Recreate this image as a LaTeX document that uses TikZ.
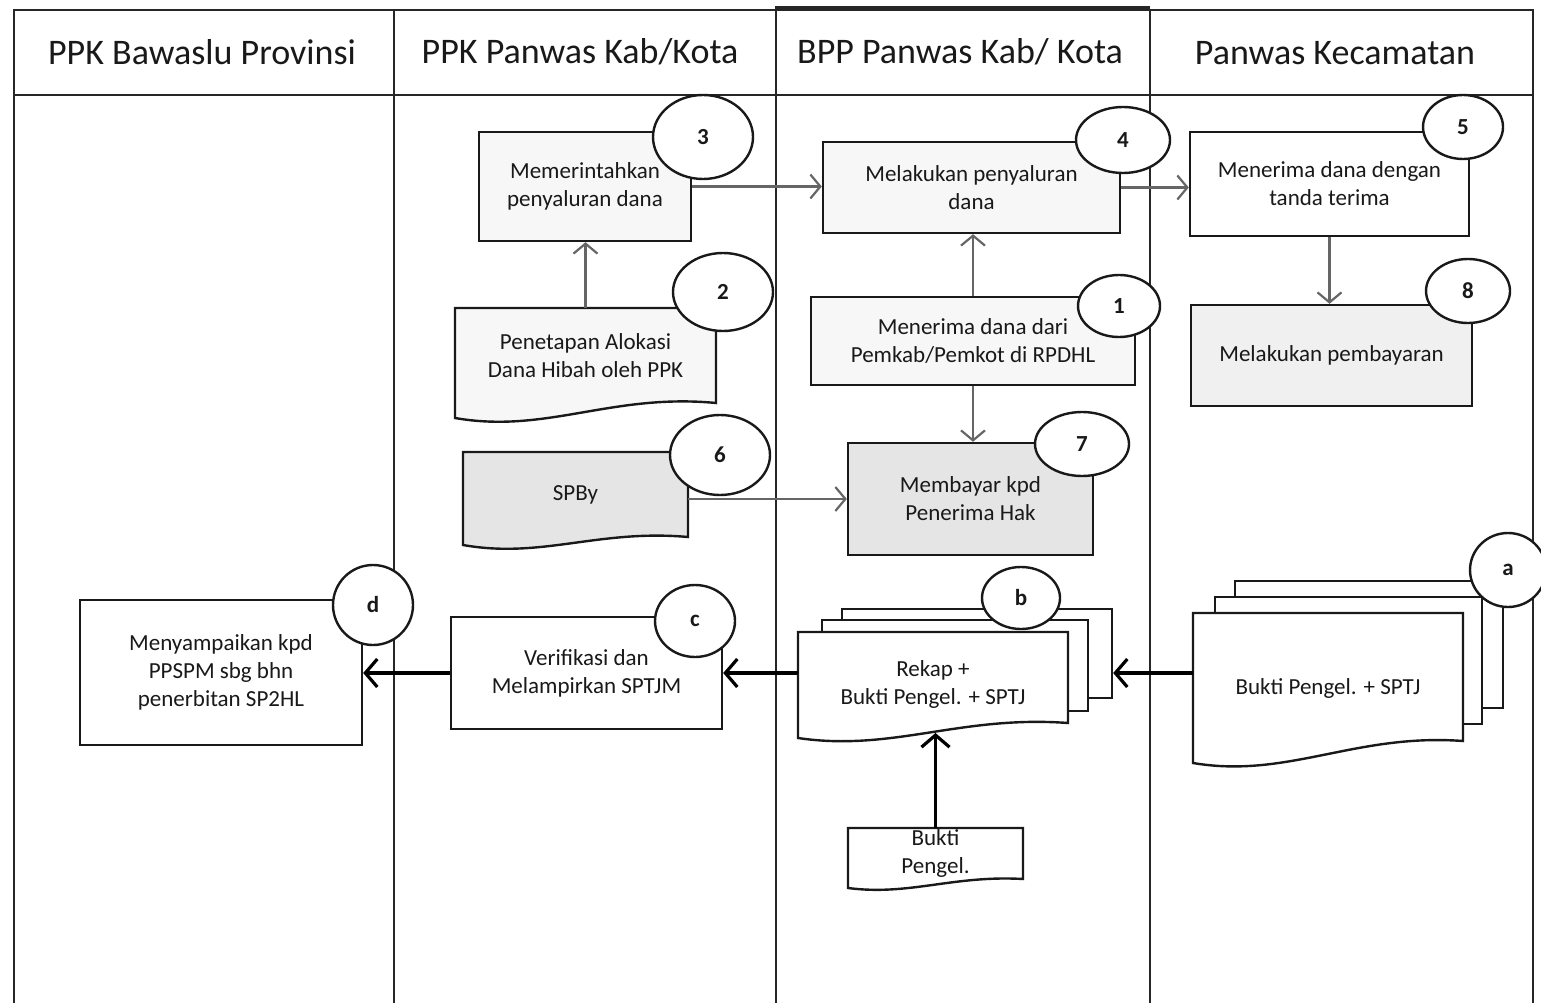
\documentclass[tikz,border=0pt]{standalone}
\usepackage{fontspec}
\setmainfont{Carlito}
\usetikzlibrary{shapes.geometric,arrows.meta}
\newcommand\boxfont{\fontsize{23}{28}\selectfont}
\newcommand\numfont{\fontsize{23}{28}\selectfont\bfseries}
\newcommand\headfont{\fontsize{36}{40}\selectfont}
\newcommand\docshape[8]{\draw[docline, fill=#8] (#1,#2) -- (#3,#2) -- (#3,#4) .. controls ({#3-0.4*(#3-#1)},{#4-#6}) and ({#1+0.35*(#3-#1)},{#5+#7}) .. (#1,#5) -- cycle;}
\tikzset{
 lane/.style={line width=2.4pt, draw=black!85},
 box/.style={draw=black!90, line width=2.4pt, rectangle, align=center, inner sep=0pt, font=\boxfont, text=black!90},
 doctext/.style={rectangle, align=center, inner sep=0pt, font=\boxfont, text=black!90},
 docline/.style={draw=black!90, line width=2.4pt},
 backdoc/.style={draw=black!90, fill=white, line width=2.4pt, rectangle, inner sep=0pt},
 num/.style={ellipse, draw=black!90, fill=white, line width=2.4pt, inner sep=0pt, font=\numfont, text=black!90},
 head/.style={font=\headfont, text=black!90},
 thinarrow/.style={draw=black!60, line width=2.2pt, -{Straight Barb[length=10pt,width=24pt]}},
 heavyarrow/.style={draw=black, line width=3.2pt, -{Straight Barb[length=12pt,width=28pt]}},
}
\begin{document}
\begin{tikzpicture}[x=1pt,y=-1pt]
\useasboundingbox (0,0) rectangle (1541,1003);
% lanes
\draw[lane] (13,10) -- (1534,10);
\draw[line width=3.8pt, draw=black!85] (775,8) -- (1150,8);
\draw[lane] (13,95) -- (1534,95);
\foreach \x in {14,394,776,1150,1533} \draw[lane] (\x,10) -- (\x,1003);
\node[head] (h1) at (202,52) {PPK Bawaslu Provinsi};
\node[head] (h2) at (580,52) {PPK Panwas Kab/Kota};
\node[head] (h3) at (960,52) {BPP Panwas Kab/ Kota};
\node[head] (h4) at (1335,53) {Panwas Kecamatan};
% boxes
\node[box, fill=gray!6, minimum width=212pt, minimum height=109pt] (b3) at (585,186.5) {Memerintahkan\\penyaluran dana};
\node[box, fill=gray!6, minimum width=297pt, minimum height=91pt] (b4) at (971.5,187.5) {Melakukan penyaluran\\dana};
\node[box, fill=white, minimum width=279pt, minimum height=104pt] (b5) at (1329.5,184) {Menerima dana dengan\\tanda terima};
\node[box, fill=gray!6, minimum width=324pt, minimum height=88pt] (b1) at (973,341) {Menerima dana dari\\Pemkab/Pemkot di RPDHL};
\node[box, fill=gray!12, minimum width=281pt, minimum height=101pt] (b8) at (1331.5,355.5) {Melakukan pembayaran};
\node[box, fill=gray!20, minimum width=245pt, minimum height=112pt] (b7) at (970.5,499) {Membayar kpd\\Penerima Hak};
\node[box, fill=white, minimum width=271pt, minimum height=112pt] (bc) at (586.5,673) {Verifikasi dan\\Melampirkan SPTJM};
\node[box, fill=white, minimum width=282pt, minimum height=145pt] (bd) at (221,672.5) {Menyampaikan kpd\\PPSPM sbg bhn\\penerbitan SP2HL};
% documents
\docshape{455}{308}{716}{403}{418}{10}{16}{gray!6}
\node[doctext, minimum width=261pt, minimum height=95pt] (doc2) at (585.5,355.5) {Penetapan Alokasi\\Dana Hibah oleh PPK};
\docshape{463}{452}{688}{537}{545}{8}{14}{gray!20}
\node[doctext, minimum width=225pt, minimum height=85pt] (doc6) at (575.5,494.5) {SPBy};
\docshape{848}{828}{1023}{879}{888}{4}{8}{white}
\node[doctext, minimum width=175pt, minimum height=51pt] (docbk) at (935.5,853.5) {Bukti\\Pengel.};
% stacked documents b
\node[backdoc, minimum width=270pt, minimum height=89pt] (docb3) at (977,653.5) {};
\node[backdoc, minimum width=266pt, minimum height=91pt] (docb2) at (955,665.5) {};
\docshape{798}{632}{1068}{723}{738}{8}{14}{white}
\node[doctext, minimum width=270pt, minimum height=104pt] (docb) at (933,684) {Rekap +\\Bukti Pengel. + SPTJ};
\coordinate (bwave) at (935.5,733);
% stacked documents a
\node[backdoc, minimum width=268pt, minimum height=127pt] (doca3) at (1369,644.5) {};
\node[backdoc, minimum width=267pt, minimum height=127pt] (doca2) at (1348.5,660.5) {};
\docshape{1193}{613}{1463}{741}{763}{8}{16}{white}
\node[doctext, minimum width=270pt, minimum height=150pt] (doca) at (1328,688) {Bukti Pengel. + SPTJ};
% number circles
\node[num, minimum width=100pt, minimum height=84pt] (c3) at (703,137) {3};
\node[num, minimum width=100pt, minimum height=78pt] (c2) at (723,292) {2};
\node[num, minimum width=94pt, minimum height=66pt] (c4) at (1123,140) {4};
\node[num, minimum width=82pt, minimum height=62pt] (c1) at (1119,306) {1};
\node[num, minimum width=80pt, minimum height=64pt] (c5) at (1463,127) {5};
\node[num, minimum width=84pt, minimum height=64pt] (c8) at (1468,291) {8};
\node[num, minimum width=100pt, minimum height=80pt] (c6) at (720,455) {6};
\node[num, minimum width=94pt, minimum height=64pt] (c7) at (1082,444) {7};
\node[num, minimum width=78pt, minimum height=62pt] (cb) at (1021,598) {b};
\node[num, minimum width=76pt, minimum height=74pt] (ca) at (1508,570) {a};
\node[num, minimum width=80pt, minimum height=72pt] (cc) at (695,621) {c};
\node[num, minimum width=80pt, minimum height=80pt] (cd) at (373,605) {d};
% thin arrows
\draw[thinarrow] (b3.east) -- (b4.west |- b3.east);
\draw[thinarrow] (b4.east) -- (b5.west |- b4.east);
\draw[thinarrow] (doc2.north) -- (doc2.north |- b3.south);
\draw[thinarrow] (b1.north) -- (b1.north |- b4.south);
\draw[thinarrow] (b1.south) -- (b1.south |- b7.north);
\draw[thinarrow] (b5.south) -- (b5.south |- b8.north);
\draw[thinarrow] (doc6.east |- b7.west) -- (b7.west);
% heavy arrows
\draw[heavyarrow] (docbk.north) -- (bwave);
\draw[heavyarrow] (docb.west |- bc.east) -- (bc.east);
\draw[heavyarrow] (bc.west) -- (bd.east |- bc.west);
\draw[heavyarrow] (doca.west |- bc.east) -- (docb3.east |- bc.east);
\end{tikzpicture}
\end{document}
